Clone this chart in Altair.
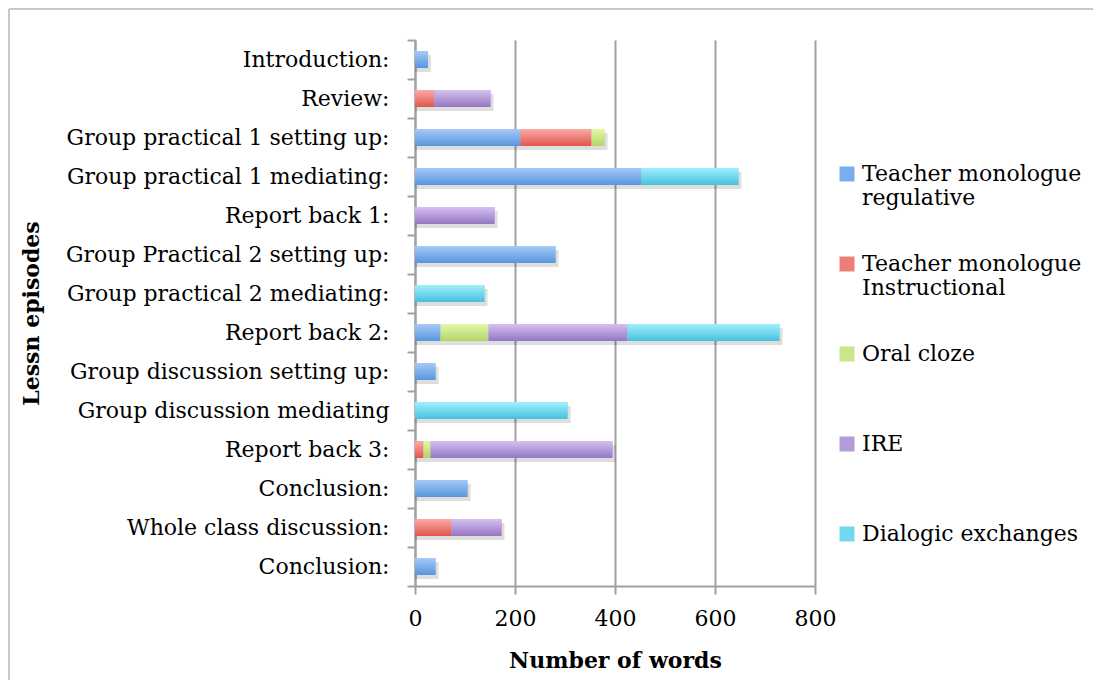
import json
import altair as alt
import pandas as pd

episodes = ["Introduction:", "Review:", "Group practical 1 setting up:",
            "Group practical 1 mediating:", "Report back 1:",
            "Group Practical 2 setting up:", "Group practical 2 mediating:",
            "Report back 2:", "Group discussion setting up:",
            "Group discussion mediating", "Report back 3:", "Conclusion:",
            "Whole class discussion:", "Conclusion:"]
series = ["Teacher monologue regulative", "Teacher monologue Instructional",
          "Oral cloze", "IRE", "Dialogic exchanges"]
regulative = [26, 0, 211, 453, 0, 281, 0, 51, 41, 0, 0, 105, 0, 41]
instructional = [0, 39, 142, 0, 0, 0, 0, 0, 0, 0, 17, 0, 73, 0]
oral_cloze = [0, 0, 26, 0, 0, 0, 0, 96, 0, 0, 14, 0, 0, 0]
ire = [0, 112, 0, 0, 159, 0, 0, 278, 0, 0, 364, 0, 100, 0]
dialogic = [0, 0, 0, 194, 0, 0, 139, 304, 0, 305, 0, 0, 0, 0]
x_ticks = [0, 200, 400, 600, 800]

solid = ["#7aaeea", "#ec7e77", "#cbe688", "#b39bd8", "#72d8ec"]
tops = ["#a6c9f8", "#fbaaa4", "#e4f8a8", "#d6c0f0", "#a0f0fd"]
bottoms = ["#5796dc", "#df564e", "#b3d46a", "#9477c2", "#47c0dc"]

values = [regulative, instructional, oral_cloze, ire, dialogic]
rows = []
for si, (name, vals) in enumerate(zip(series, values)):
    for i, v in enumerate(vals):
        if v > 0:
            rows.append({"idx": i, "series": name, "order": si, "value": v})
df = pd.DataFrame(rows)

FONT = "DejaVu Serif"
GRAY = "#a0a0a0"

label_expr = json.dumps(episodes) + "[datum.value]"

base = alt.Chart(df).transform_stack(
    stack="value", as_=["x0", "x1"], groupby=["idx"],
    sort=[alt.SortField("order", "ascending")]
)

y_enc = alt.Y(
    "idx:O",
    scale=alt.Scale(paddingInner=0, paddingOuter=0),
    axis=alt.Axis(
        title="Lessn episodes", labelExpr=label_expr, tickBand="extent",
        labelFont=FONT, labelFontSize=22, labelColor="black", labelPadding=18,
        tickSize=8, tickColor=GRAY, tickWidth=2, domainColor=GRAY,
        domainWidth=2, grid=False, titleFont=FONT, titleFontSize=22,
        titleFontWeight="bold", titleColor="black",
        titleX=-372, titleY=273, titleAngle=270, titleBaseline="bottom",
        titleAlign="center",
        labelLimit=500,
    ),
)

x_axis = alt.Axis(
    title="Number of words", values=x_ticks, labelFont=FONT, labelFontSize=22,
    labelColor="black", labelPadding=14, labelFlush=False, tickSize=8,
    tickColor=GRAY, tickWidth=2, domainColor=GRAY, domainWidth=2, grid=True,
    gridColor=GRAY, gridWidth=2, titleFont=FONT, titleFontSize=22,
    titleFontWeight="bold", titleColor="black", titlePadding=21,
)
x_scale = alt.Scale(domain=[0, 800], nice=False)

shadow = base.mark_bar(size=17, color="#000000", opacity=0.13,
                       xOffset=3, yOffset=4).encode(
    x=alt.X("sum(value):Q", scale=x_scale, axis=x_axis),
    y=y_enc,
)

main = base.mark_bar(size=17).encode(
    x=alt.X("x0:Q", scale=x_scale, axis=x_axis),
    x2="x1:Q",
    y=y_enc,
    color=alt.Color(
        "series:N",
        scale=alt.Scale(domain=series, range=solid),
        legend=alt.Legend(
            title=None, orient="none", legendX=421, legendY=123,
            symbolType="square", symbolSize=225, symbolStrokeWidth=0,
            labelFont=FONT, labelFontSize=22, labelColor="black",
            labelOffset=4, rowPadding=44, labelLimit=400, padding=0,
            labelExpr=("indexof(datum.label, 'Teacher monologue ') == 0 ? "
                       "['Teacher monologue', substring(datum.label, 18)] : "
                       "[datum.label, '']"),
        ),
    ),
)

overlays = []
for si, name in enumerate(series):
    grad = alt.Gradient(
        gradient="linear", x1=0, x2=0, y1=0, y2=1,
        stops=[alt.GradientStop(offset=0, color=tops[si]),
               alt.GradientStop(offset=1, color=bottoms[si])],
    )
    overlays.append(
        base.transform_filter(alt.datum.series == name)
        .mark_bar(size=17, color=grad)
        .encode(x=alt.X("x0:Q", scale=x_scale, axis=x_axis), x2="x1:Q", y=y_enc)
    )

frame_data = alt.Data(values=[{}])
frame_left = alt.Chart(frame_data).mark_rule(color="#b4b4b4", strokeWidth=1.5).encode(
    x=alt.value(-406), y=alt.value(-31), y2=alt.value(640)
)
frame_top = alt.Chart(frame_data).mark_rule(color="#b4b4b4", strokeWidth=1.5).encode(
    x=alt.value(-406), x2=alt.value(678), y=alt.value(-31)
)

chart = alt.layer(frame_left, frame_top, shadow, main, *overlays).properties(
    width=400, height=546, padding=0
).configure_view(stroke=None)

chart.save("out.html", embed_options={"renderer": "svg", "actions": False})
